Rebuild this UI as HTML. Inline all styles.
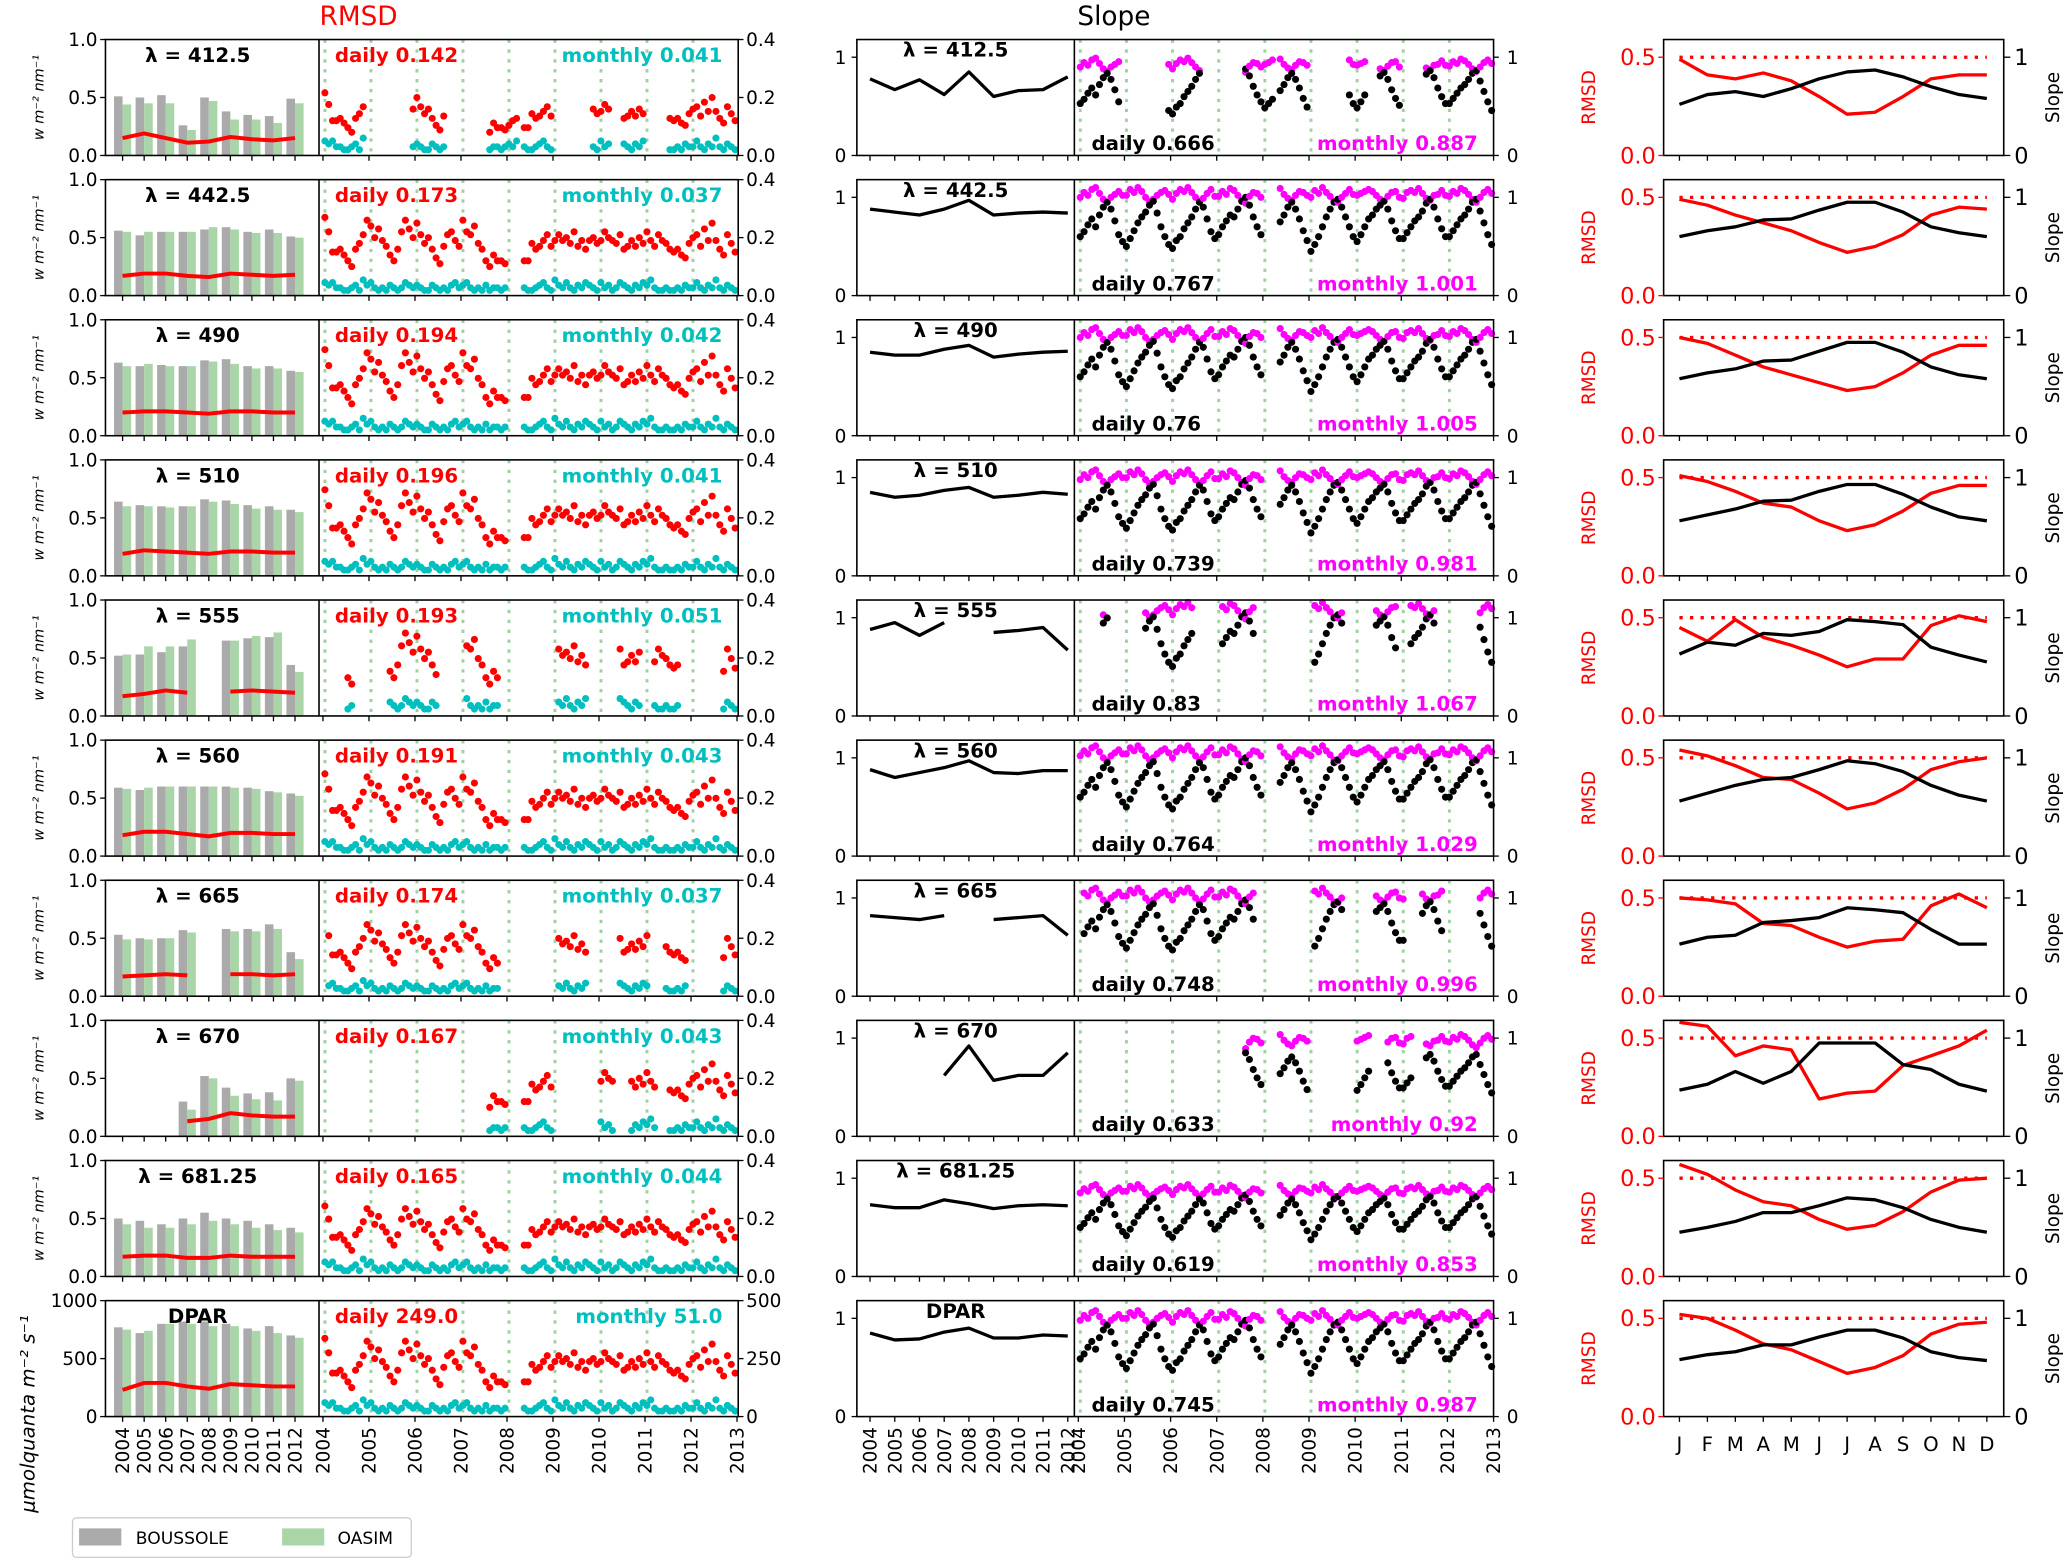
<!DOCTYPE html>
<html><head><meta charset="utf-8"><style>
html,body{margin:0;padding:0;background:#fff;}
svg{display:block;font-family:"DejaVu Sans","Liberation Sans",sans-serif;}
</style></head><body>
<svg id="fig" width="2067" height="1560" viewBox="0 0 1568 1184" preserveAspectRatio="none" xmlns="http://www.w3.org/2000/svg">
<text x="272" y="19" font-size="20" fill="#ff0000" text-anchor="middle">RMSD</text>
<text x="845" y="19" font-size="20" fill="#000" text-anchor="middle">Slope</text>
<g>
<rect x="55" y="1152" width="257" height="30" rx="3" fill="#fff" stroke="#ccc" stroke-width="1"/>
<rect x="60" y="1160" width="32" height="13" fill="#aaaaaa"/>
<text x="103" y="1172" font-size="13">BOUSSOLE</text>
<rect x="214" y="1160" width="32" height="13" fill="#a9d5a9"/>
<text x="256" y="1172" font-size="13">OASIM</text>
</g>
</svg>
<script>
// ---- row metadata ----
const rowLabels=["λ = 412.5","λ = 442.5","λ = 490","λ = 510","λ = 555","λ = 560","λ = 665","λ = 670","λ = 681.25","DPAR"];
const rmsdDaily=["0.142","0.173","0.194","0.196","0.193","0.191","0.174","0.167","0.165","249.0"];
const rmsdMonthly=["0.041","0.037","0.042","0.041","0.051","0.043","0.037","0.043","0.044","51.0"];
const slopeDaily=["0.666","0.767","0.76","0.739","0.83","0.764","0.748","0.633","0.619","0.745"];
const slopeMonthly=["0.887","1.001","1.005","0.981","1.067","1.029","0.996","0.92","0.853","0.987"];
const years=[2004,2005,2006,2007,2008,2009,2010,2011,2012];
const scatterYears=[2004,2005,2006,2007,2008,2009,2010,2011,2012,2013];
const months=["J","F","M","A","M","J","J","A","S","O","N","D"];
const leftTicks=[["0.0","0.5","1.0"],[0,0.5,1]];
const leftTicksDpar=[["0","500","1000"],[0,500,1000]];
const rightTicks=[["0.0","0.2","0.4"],[0,0.2,0.4]];
const rightTicksDpar=[["0","250","500"],[0,250,500]];
// ---- annual bars ----
const barGray=[
[.51,.50,.52,.26,.50,.38,.35,.34,.49],[.56,.52,.55,.55,.57,.59,.55,.57,.51],[.63,.60,.61,.60,.65,.66,.60,.60,.56],
[.64,.61,.60,.60,.66,.65,.61,.60,.57],[.52,.53,.55,.60,null,.65,.67,.68,.44],[.59,.57,.60,.60,.60,.60,.59,.56,.54],
[.53,.50,.50,.57,null,.58,.58,.62,.38],[null,null,null,.30,.52,.42,.37,.38,.50],[.50,.48,.45,.50,.55,.50,.48,.45,.42],
[770,720,800,820,820,800,760,780,700]];
const barGreen=[
[.44,.45,.45,.22,.47,.31,.31,.28,.45],[.55,.55,.55,.55,.59,.57,.54,.54,.50],[.60,.62,.60,.60,.64,.62,.58,.58,.55],
[.60,.60,.59,.60,.64,.62,.58,.57,.55],[.53,.60,.60,.66,null,.65,.69,.72,.38],[.58,.59,.60,.60,.60,.59,.58,.55,.52],
[.49,.49,.50,.55,null,.56,.56,.58,.32],[null,null,null,.23,.50,.35,.32,.31,.48],[.45,.42,.42,.45,.48,.45,.42,.40,.38],
[750,740,800,800,780,780,740,720,680]];
const annualRmsd=[
[.15,.19,.15,.11,.12,.16,.14,.13,.15],[.17,.19,.19,.17,.16,.19,.18,.17,.18],[.20,.21,.21,.20,.19,.21,.21,.20,.20],
[.19,.22,.21,.20,.19,.21,.21,.20,.20],[.17,.19,.22,.20,null,.21,.22,.21,.20],[.18,.21,.21,.19,.17,.20,.20,.19,.19],
[.17,.18,.19,.18,null,.19,.19,.18,.19],[null,null,null,.13,.15,.20,.18,.17,.17],[.17,.18,.18,.16,.16,.18,.17,.17,.17],
[230,290,290,260,240,280,270,260,260]];
const annualSlope=[
[.78,.67,.77,.62,.85,.60,.66,.67,.80],[.88,.85,.82,.88,.97,.82,.84,.85,.84],[.85,.82,.82,.88,.92,.80,.83,.85,.86],
[.85,.80,.82,.87,.90,.80,.82,.85,.83],[.88,.95,.82,.95,null,.85,.87,.90,.67],[.88,.80,.85,.90,.97,.85,.84,.87,.87],
[.82,.80,.78,.82,null,.78,.80,.82,.62],[null,null,null,.62,.92,.57,.62,.62,.85],[.73,.70,.70,.78,.74,.69,.72,.73,.72],
[.85,.78,.79,.86,.90,.80,.80,.83,.82]];
// ---- monthly climatology ----
const climRmsd=[
[.49,.41,.39,.42,.38,.30,.21,.22,.30,.39,.41,.41],[.49,.46,.41,.37,.33,.27,.22,.25,.31,.41,.45,.44],
[.50,.47,.41,.35,.31,.27,.23,.25,.32,.41,.46,.46],[.51,.48,.43,.37,.35,.28,.23,.26,.33,.42,.46,.46],
[.45,.38,.49,.40,.36,.31,.25,.29,.29,.46,.51,.48],[.54,.51,.46,.40,.39,.32,.24,.27,.34,.44,.48,.50],
[.50,.49,.47,.37,.36,.30,.25,.28,.29,.46,.52,.45],[.58,.56,.41,.46,.44,.19,.22,.23,.36,.41,.46,.54],
[.57,.52,.44,.38,.36,.29,.24,.26,.33,.43,.49,.50],[.52,.50,.44,.37,.34,.28,.22,.25,.31,.42,.47,.48]];
const climSlope=[
[.52,.62,.65,.60,.68,.78,.85,.87,.80,.70,.62,.58],[.60,.66,.70,.77,.78,.87,.95,.95,.85,.70,.64,.60],
[.58,.64,.68,.76,.77,.86,.95,.95,.85,.70,.62,.58],[.56,.62,.68,.76,.77,.86,.93,.93,.83,.70,.60,.56],
[.63,.75,.72,.84,.82,.86,.98,.96,.93,.70,.62,.55],[.56,.64,.72,.78,.80,.88,.97,.94,.86,.72,.62,.56],
[.53,.60,.62,.75,.77,.80,.90,.88,.85,.68,.53,.53],[.47,.53,.66,.54,.66,.95,.95,.95,.73,.68,.53,.46],
[.45,.50,.56,.65,.65,.72,.80,.78,.70,.58,.50,.45],[.58,.63,.66,.73,.73,.81,.88,.88,.80,.66,.60,.57]];
// ---- monthly time series (2004-01 .. 2012-12) ----
const dailyRmsdSeries=[
.27,.22,.15,.15,.16,.14,.12,.10,.16,.18,.21,.26, .24,.20,.23,.19,.17,.14,.12,.16,.22,.26,.23,.20,
.25,.21,.18,.20,.16,.13,.11,.17,.21,.22,.19,.17, .26,.22,.21,.24,.18,.16,.12,.10,.14,.12,.12,.11,
.13,.15,.16,.14,.12,.12,.18,.16,.17,.19,.21,.17, .19,.21,.19,.20,.18,.22,.17,.19,.16,.19,.20,.18,
.19,.22,.20,.19,.18,.21,.16,.17,.19,.17,.20,.18, .22,.19,.17,.21,.19,.18,.16,.15,.16,.14,.13,.18,
.20,.21,.17,.23,.19,.25,.19,.16,.14,.21,.18,.15];
const monthlyRmsdSeries=[
.05,.04,.05,.03,.03,.02,.02,.03,.04,.02,.06,.04, .05,.03,.02,.03,.02,.04,.03,.02,.03,.05,.04,.03,
.04,.03,.02,.02,.04,.03,.02,.03,.02,.04,.05,.03, .04,.05,.03,.02,.03,.02,.04,.02,.03,.03,.02,.03,
.04,.03,.05,.04,.03,.02,.02,.03,.04,.05,.03,.02, .06,.04,.03,.05,.03,.02,.04,.03,.05,.04,.03,.02,
.05,.03,.04,.02,.03,.05,.04,.03,.02,.04,.03,.05, .04,.06,.03,.02,.02,.03,.02,.02,.03,.02,.04,.03,
.03,.05,.03,.02,.04,.03,.06,.03,.02,.04,.03,.02];
const dailySlopeSeries=[
.60,.65,.72,.78,.70,.82,.90,.95,.88,.76,.62,.55, .50,.58,.66,.74,.80,.85,.92,.96,.84,.70,.60,.52,
.48,.56,.60,.68,.74,.80,.88,.95,.90,.78,.65,.58, .62,.70,.76,.82,.80,.88,.96,1.0,.92,.80,.70,.62,
.55,.60,.65,.70,.75,.82,.90,.95,.88,.78,.66,.56, .45,.52,.60,.70,.80,.88,.95,.98,.90,.80,.70,.60,
.55,.62,.70,.78,.82,.88,.92,.96,.88,.76,.66,.58, .58,.64,.70,.76,.80,.86,.94,.98,.90,.78,.68,.60,
.60,.66,.72,.78,.82,.88,.95,.98,.86,.74,.62,.52];
const monthlySlopeSeries=[
1.00,1.05,1.02,1.08,1.10,1.04,.98,.95,1.00,1.03,1.06,1.02, 1.02,1.08,1.05,1.10,1.06,1.00,.96,.98,1.02,1.05,1.07,1.03,
.98,1.04,1.08,1.06,1.10,1.05,1.00,.96,.99,1.04,1.08,1.01, 1.01,1.06,1.03,1.09,1.07,1.02,.97,.94,1.01,1.05,1.04,1.00,
1.03,1.05,1.08,1.04,1.09,1.03,.99,.97,1.02,1.06,1.05,1.02, 1.00,1.07,1.04,1.10,1.05,1.01,.96,.95,1.00,1.04,1.08,1.03,
1.02,1.04,1.06,1.08,1.06,1.02,.98,.96,1.01,1.05,1.06,1.00, .99,1.05,1.07,1.05,1.09,1.04,.99,.97,1.02,1.03,1.07,1.02,
1.01,1.06,1.04,1.09,1.07,1.03,.98,.95,1.00,1.05,1.08,1.04];
const rowRmsdScale=[0.8,1,1.1,1.1,1.1,1.05,0.95,1,0.9,1250];
const rowMonthlyScale=[1,0.9,1,1,1.2,1,0.9,1,1,1200];
const rowSlopeScale=[0.88,1.0,1.0,0.97,1.05,1.0,0.98,0.85,0.83,0.98];
const rowMagScale=[0.9,1,1,0.98,1.05,1.02,1,0.95,0.85,0.98];
const availability=[
[[0,10],[23,31],[43,50],[52,59],[70,74],[78,83],[90,107]],
[[0,47],[52,107]],[[0,47],[52,107]],[[0,47],[52,107]],
[[6,7],[17,29],[37,45],[61,68],[77,82],[86,92],[104,107]],
[[0,47],[52,107]],
[[1,45],[61,68],[77,84],[89,94],[104,107]],
[[43,47],[52,59],[72,75],[80,86],[90,107]],
[[0,47],[52,107]],[[0,47],[52,107]]];

// ---- drawing ----
const NS="http://www.w3.org/2000/svg";
const svg=document.getElementById('fig');
function mk(tag,attrs,parent,txt){const e=document.createElementNS(NS,tag);for(const k in attrs)e.setAttribute(k,attrs[k]);if(txt!==undefined)e.textContent=txt;(parent||svg).appendChild(e);return e;}
const RED="#ff0000",CYAN="#00bfbf",MAG="#ff00ff",GRAY="#aaaaaa",GREEN="#a9d5a9";
const TOP0=30,PITCH=106.35,H=88;
const c1L=80,c1D=242,c1R=560,c2L=650,c2D=815,c2R=1133,c3L=1262,c3R=1520;
const xBar=y=>93+(y-2004)*16.35;
const xSc=t=>245+(t-2004)*34.9;
const xSl=y=>660+(y-2004)*18.75;
const xSc2=t=>818+(t-2004)*35;
const xMon=m=>1274+m*21.2;
function inAvail(r,i){return availability[r].some(a=>i>=a[0]&&i<=a[1]);}
function polyline(pts,color,w,parent,name,dash){
  let seg=[];const segs=[];
  pts.forEach(p=>{if(p===null){if(seg.length)segs.push(seg);seg=[];}else seg.push(p);});
  if(seg.length)segs.push(seg);
  segs.forEach(s=>{
    const e=mk(s.length>1?'polyline':'circle',s.length>1?{points:s.map(p=>p.join(',')).join(' '),fill:'none',stroke:color,'stroke-width':w,'stroke-linejoin':'round'}:{cx:s[0][0],cy:s[0][1],r:w/2,fill:color},parent);
    if(dash)e.setAttribute('stroke-dasharray',dash);
    
    
  });
}
for(let r=0;r<10;r++){
  const top=TOP0+r*PITCH,bot=top+H,isD=r===9;
  const lmax=isD?1000:1,rmax=isD?500:0.4;
  const yL=v=>bot-v/lmax*H, yR=v=>bot-v/rmax*H, yS=v=>bot-v/1.18*H, yCR=v=>bot-v/0.59*H;
  const g=mk('g',{});
  
  
  years.forEach((yr,i)=>{
    if(barGray[r][i]!==null){const b=mk('rect',{x:xBar(yr)-6.5,y:yL(barGray[r][i]),width:6.5,height:bot-yL(barGray[r][i]),fill:GRAY},g);
      }
    if(barGreen[r][i]!==null){const b=mk('rect',{x:xBar(yr),y:yL(barGreen[r][i]),width:6.5,height:bot-yL(barGreen[r][i]),fill:GREEN},g);
      }
  });
  polyline(years.map((yr,i)=>annualRmsd[r][i]===null?null:[xBar(yr),yL(annualRmsd[r][i])]),RED,3,g,'annual-rmsd-line');
  scatterYears.slice(0,9).forEach(yr=>{const l=mk('line',{x1:xSc(yr)+1.5,x2:xSc(yr)+1.5,y1:top,y2:bot,stroke:'#9fd09f','stroke-width':2.2,'stroke-dasharray':'2.5,5'},g);
    });
  for(let i=0;i<108;i++){
    if(!inAvail(r,i))continue;
    const t=2004+(i+0.5)/12;
    const c=mk('circle',{cx:xSc(t),cy:yR(monthlyRmsdSeries[i]*rowMonthlyScale[r]),r:2.7,fill:CYAN},g);
    
    const d=mk('circle',{cx:xSc(t),cy:yR(dailyRmsdSeries[i]*rowRmsdScale[r]),r:2.7,fill:RED},g);
    
  }
  const f1=mk('rect',{x:c1L,y:top,width:c1R-c1L,height:H,fill:'none',stroke:'#000','stroke-width':1.2},g);
  
  mk('line',{x1:c1D,x2:c1D,y1:top,y2:bot,stroke:'#000','stroke-width':1.2},g);
  const lt=isD?leftTicksDpar:leftTicks, rt=isD?rightTicksDpar:rightTicks;
  lt[1].forEach((v,k)=>{mk('line',{x1:c1L-4,x2:c1L,y1:yL(v),y2:yL(v),stroke:'#000'},g);
    const t=mk('text',{x:c1L-6,y:yL(v)+5,'font-size':14,'text-anchor':'end'},g,lt[0][k]);});
  rt[1].forEach((v,k)=>{mk('line',{x1:c1R,x2:c1R+4,y1:yR(v),y2:yR(v),stroke:'#000'},g);
    const t=mk('text',{x:c1R+6,y:yR(v)+5,'font-size':14},g,rt[0][k]);});
  years.forEach(yr=>mk('line',{x1:xBar(yr),x2:xBar(yr),y1:bot,y2:bot+4,stroke:'#000'},g));
  scatterYears.forEach(yr=>mk('line',{x1:xSc(yr),x2:xSc(yr),y1:bot,y2:bot+4,stroke:'#000'},g));
  let t=mk('text',{x:150,y:top+17,'font-size':15,'font-weight':'bold','text-anchor':'middle'},g,rowLabels[r]);
  
  t=mk('text',{x:254,y:top+17,'font-size':15,'font-weight':'bold',fill:RED},g,'daily '+rmsdDaily[r]);
  
  t=mk('text',{x:548,y:top+17,'font-size':15,'font-weight':'bold',fill:CYAN,'text-anchor':'end'},g,'monthly '+rmsdMonthly[r]);
  
  if(!isD){t=mk('text',{transform:`translate(33,${top+H/2}) rotate(-90)`,'font-size':11,'font-style':'italic','text-anchor':'middle'},g,'w  m⁻²  nm⁻¹');
    }
  else{t=mk('text',{transform:`translate(26,${top+H/2+42}) rotate(-90)`,'font-size':15,'font-style':'italic','text-anchor':'middle'},g,'μmolquanta  m⁻²  s⁻¹');
    }
  polyline(years.map((yr,i)=>annualSlope[r][i]===null?null:[xSl(yr),yS(annualSlope[r][i])]),'#000',2.5,g,'annual-slope-line');
  scatterYears.slice(0,9).forEach(yr=>{const l=mk('line',{x1:xSc2(yr)+1.5,x2:xSc2(yr)+1.5,y1:top,y2:bot,stroke:'#9fd09f','stroke-width':2.2,'stroke-dasharray':'2.5,5'},g);
    });
  for(let i=0;i<108;i++){
    if(!inAvail(r,i))continue;
    const tt=2004+(i+0.5)/12;
    const m=mk('circle',{cx:xSc2(tt),cy:yS(monthlySlopeSeries[i]*rowMagScale[r]),r:2.7,fill:MAG},g);
    
    const d=mk('circle',{cx:xSc2(tt),cy:yS(dailySlopeSeries[i]*rowSlopeScale[r]),r:2.7,fill:'#000'},g);
    
  }
  const f2=mk('rect',{x:c2L,y:top,width:c2R-c2L,height:H,fill:'none',stroke:'#000','stroke-width':1.2},g);
  
  mk('line',{x1:c2D,x2:c2D,y1:top,y2:bot,stroke:'#000','stroke-width':1.2},g);
  [[0,'0'],[1,'1']].forEach(([v,s])=>{
    mk('line',{x1:c2L-4,x2:c2L,y1:yS(v),y2:yS(v),stroke:'#000'},g);
    mk('text',{x:c2L-8,y:yS(v)+5,'font-size':14,'text-anchor':'end'},g,s);
    mk('line',{x1:c2R,x2:c2R+4,y1:yS(v),y2:yS(v),stroke:'#000'},g);
    mk('text',{x:c2R+10,y:yS(v)+5,'font-size':14},g,s);
  });
  years.forEach(yr=>mk('line',{x1:xSl(yr),x2:xSl(yr),y1:bot,y2:bot+4,stroke:'#000'},g));
  scatterYears.forEach(yr=>mk('line',{x1:xSc2(yr),x2:xSc2(yr),y1:bot,y2:bot+4,stroke:'#000'},g));
  t=mk('text',{x:725,y:top+13,'font-size':15,'font-weight':'bold','text-anchor':'middle'},g,rowLabels[r]);
  
  t=mk('text',{x:828,y:bot-4,'font-size':15,'font-weight':'bold'},g,'daily '+slopeDaily[r]);
  
  t=mk('text',{x:1121,y:bot-4,'font-size':15,'font-weight':'bold',fill:MAG,'text-anchor':'end'},g,'monthly '+slopeMonthly[r]);
  
  const dl=mk('line',{x1:xMon(0),x2:xMon(11),y1:yCR(0.5),y2:yCR(0.5),stroke:RED,'stroke-width':2.5,'stroke-dasharray':'2.5,5.5'},g);
  
  polyline(months.map((m,i)=>[xMon(i),yCR(climRmsd[r][i])]),RED,2.5,g,'monthly-rmsd-line');
  polyline(months.map((m,i)=>[xMon(i),yS(climSlope[r][i])]),'#000',2.5,g,'monthly-slope-line');
  const f3=mk('rect',{x:c3L,y:top,width:c3R-c3L,height:H,fill:'none',stroke:'#000','stroke-width':1.2},g);
  
  [[0,'0.0'],[0.5,'0.5']].forEach(([v,s])=>{mk('line',{x1:c3L-4,x2:c3L,y1:yCR(v),y2:yCR(v),stroke:RED},g);
    mk('text',{x:c3L-6,y:yCR(v)+6,'font-size':17,fill:RED,'text-anchor':'end'},g,s);});
  [[0,'0'],[1,'1']].forEach(([v,s])=>{mk('line',{x1:c3R,x2:c3R+5,y1:yS(v),y2:yS(v),stroke:'#000'},g);
    mk('text',{x:c3R+8,y:yS(v)+6,'font-size':17},g,s);});
  months.forEach((m,i)=>mk('line',{x1:xMon(i),x2:xMon(i),y1:bot,y2:bot+4,stroke:'#000'},g));
  t=mk('text',{transform:`translate(1210,${top+H/2}) rotate(-90)`,'font-size':14,fill:RED,'text-anchor':'middle'},g,'RMSD');
  
  t=mk('text',{transform:`translate(1562,${top+H/2}) rotate(-90)`,'font-size':14,'text-anchor':'middle'},g,'Slope');
  
  if(r===9){
    const yl=bot+8;
    years.forEach(yr=>{mk('text',{transform:`translate(${xBar(yr)+5},${yl}) rotate(-90)`,'font-size':14,'text-anchor':'end'},g,String(yr));
      mk('text',{transform:`translate(${xSl(yr)+5},${yl}) rotate(-90)`,'font-size':14,'text-anchor':'end'},g,String(yr));});
    scatterYears.forEach(yr=>{mk('text',{transform:`translate(${xSc(yr)+5},${yl}) rotate(-90)`,'font-size':14,'text-anchor':'end'},g,String(yr));
      mk('text',{transform:`translate(${xSc2(yr)+5},${yl}) rotate(-90)`,'font-size':14,'text-anchor':'end'},g,String(yr));});
    months.forEach((m,i)=>{const mt=mk('text',{x:xMon(i),y:bot+26,'font-size':15,'text-anchor':'middle'},g,m);
      });
  }
}
</script>
</body></html>
